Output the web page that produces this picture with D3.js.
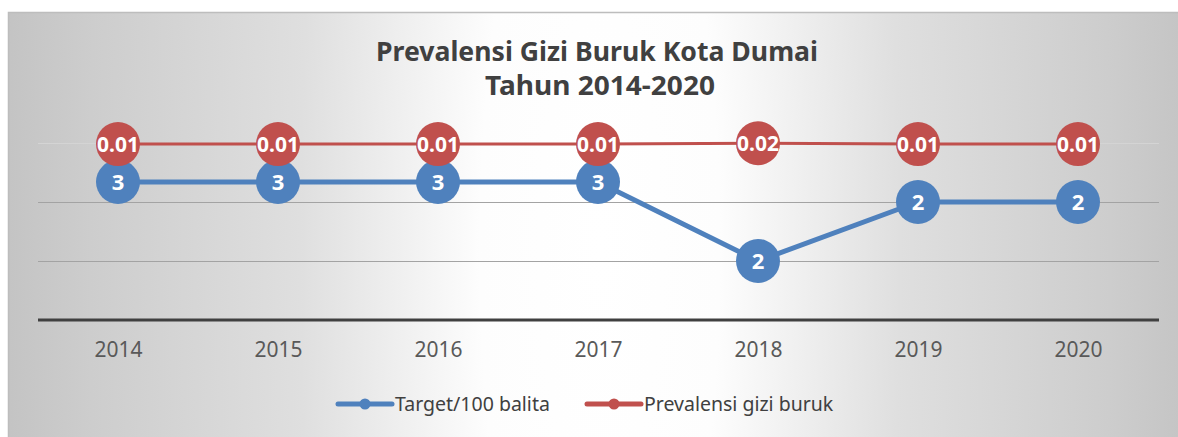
<!DOCTYPE html>
<html>
<head>
<meta charset="utf-8">
<script src="https://cdn.jsdelivr.net/npm/d3@7/dist/d3.min.js"></script>
<style>
  body { margin: 0; background: #fff; }
  svg { display: block; }
</style>
</head>
<body>
<div id="chart"></div>
<script>
// Data
const years = ["2014", "2015", "2016", "2017", "2018", "2019", "2020"];
const target = [2.57, 2.57, 2.57, 2.57, 1.9, 2.4, 2.4];          // Target/100 balita
const prevalensi = [0.01495, 0.01495, 0.01495, 0.01495, 0.01502, 0.01495, 0.01495]; // Prevalensi gizi buruk (secondary axis)
const gridTicks = [1.4, 1.9, 2.4, 2.9];
const seriesNames = ["Target/100 balita", "Prevalensi gizi buruk"];

const width = 1178, height = 437;
const blue = "#4f81bd", red = "#c0504d";
const font = "'Noto Sans', 'Open Sans', sans-serif";

const svg = d3.select("#chart").append("svg")
    .attr("width", width)
    .attr("height", height);

// background gradient (Excel-like, light in the middle, grey at the sides)
const defs = svg.append("defs");
const grad = defs.append("radialGradient")
    .attr("id", "bg")
    .attr("gradientUnits", "userSpaceOnUse")
    .attr("cx", 600).attr("cy", 250).attr("r", 600)
    .attr("gradientTransform", "translate(600,250) scale(1,4) translate(-600,-250)");
[[0, "#ffffff"], [0.2, "#fdfdfd"], [0.5, "#dfdfdf"], [0.85, "#cdcdcd"], [1, "#c3c3c3"]]
    .forEach(([o, c]) => grad.append("stop").attr("offset", o).attr("stop-color", c));

svg.append("rect")
    .attr("x", 8.5).attr("y", 12.5)
    .attr("width", width + 10).attr("height", height + 10)
    .attr("fill", "url(#bg)")
    .attr("stroke", "#bdbdbd")
    .attr("stroke-width", 1.5);

// title
const title = svg.append("text")
    .attr("text-anchor", "middle")
    .attr("font-family", font)
    .attr("font-weight", "bold")
    .attr("font-size", "26px")
    .attr("fill", "#404040");
title.append("tspan").attr("x", 597).attr("y", 61)
    .attr("textLength", 442).attr("lengthAdjust", "spacingAndGlyphs")
    .text("Prevalensi Gizi Buruk Kota Dumai");
title.append("tspan").attr("x", 600).attr("y", 95)
    .attr("textLength", 230).attr("lengthAdjust", "spacingAndGlyphs")
    .text("Tahun 2014-2020");

// scales
const x = d3.scalePoint().domain(years).range([118, 1078]);
const y = d3.scaleLinear().domain([1.4, 2.9]).range([320, 143]);
const y2 = d3.scaleLinear().domain([0, 0.015]).range([320, 143.5]);

// gridlines
svg.append("g")
    .selectAll("line")
    .data(gridTicks.slice(1))
    .join("line")
    .attr("x1", 38).attr("x2", 1159)
    .attr("y1", d => Math.round(y(d)) + 0.5)
    .attr("y2", d => Math.round(y(d)) + 0.5)
    .attr("stroke", (d, i) => i === 2 ? "#d4d4d4" : "#a3a3a3")
    .attr("stroke-width", 1.2);

// x axis
const xAxis = svg.append("g")
    .attr("transform", "translate(0,320)")
    .call(d3.axisBottom(x).tickSize(0).tickPadding(22));
xAxis.select(".domain").remove();
xAxis.append("line")
    .attr("x1", 38).attr("x2", 1159)
    .attr("stroke", "#404040")
    .attr("stroke-width", 3);
xAxis.selectAll("text")
    .attr("font-family", font)
    .attr("font-size", "21px")
    .attr("fill", "#595959");

// series
function drawSeries(values, scale, color, lineWidth, fmt, fontSize) {
    const line = d3.line()
        .x((d, i) => x(years[i]))
        .y(d => scale(d));
    svg.append("path")
        .datum(values)
        .attr("d", line)
        .attr("fill", "none")
        .attr("stroke", color)
        .attr("stroke-width", lineWidth)
        .attr("stroke-linejoin", "round");
    const g = svg.append("g");
    g.selectAll("circle")
        .data(values)
        .join("circle")
        .attr("cx", (d, i) => x(years[i]))
        .attr("cy", d => scale(d))
        .attr("r", 22)
        .attr("fill", color);
    g.selectAll("text")
        .data(values)
        .join("text")
        .attr("x", (d, i) => x(years[i]))
        .attr("y", d => scale(d))
        .attr("dy", "0.36em")
        .attr("text-anchor", "middle")
        .attr("font-family", font)
        .attr("font-weight", "bold")
        .attr("font-size", fontSize)
        .attr("fill", "#fff")
        .text(d => fmt(d));
}

drawSeries(target, y, blue, 5, d3.format(".0f"), "22px");
drawSeries(prevalensi, y2, red, 3, d3.format(".2f"), "21px");

// legend
const legendItems = [
    { name: seriesNames[0], color: blue, x0: 338 },
    { name: seriesNames[1], color: red, x0: 587 }
];
const lg = svg.append("g");
legendItems.forEach(item => {
    lg.append("line")
        .attr("x1", item.x0).attr("x2", item.x0 + 54)
        .attr("y1", 404).attr("y2", 404)
        .attr("stroke", item.color)
        .attr("stroke-width", 5)
        .attr("stroke-linecap", "round");
    lg.append("circle")
        .attr("cx", item.x0 + 27).attr("cy", 404)
        .attr("r", 5.5)
        .attr("fill", item.color);
    lg.append("text")
        .attr("x", item.x0 + 57).attr("y", 411)
        .attr("font-family", font)
        .attr("font-size", "19.5px")
        .attr("fill", "#404040")
        .text(item.name);
});
</script>
</body>
</html>
